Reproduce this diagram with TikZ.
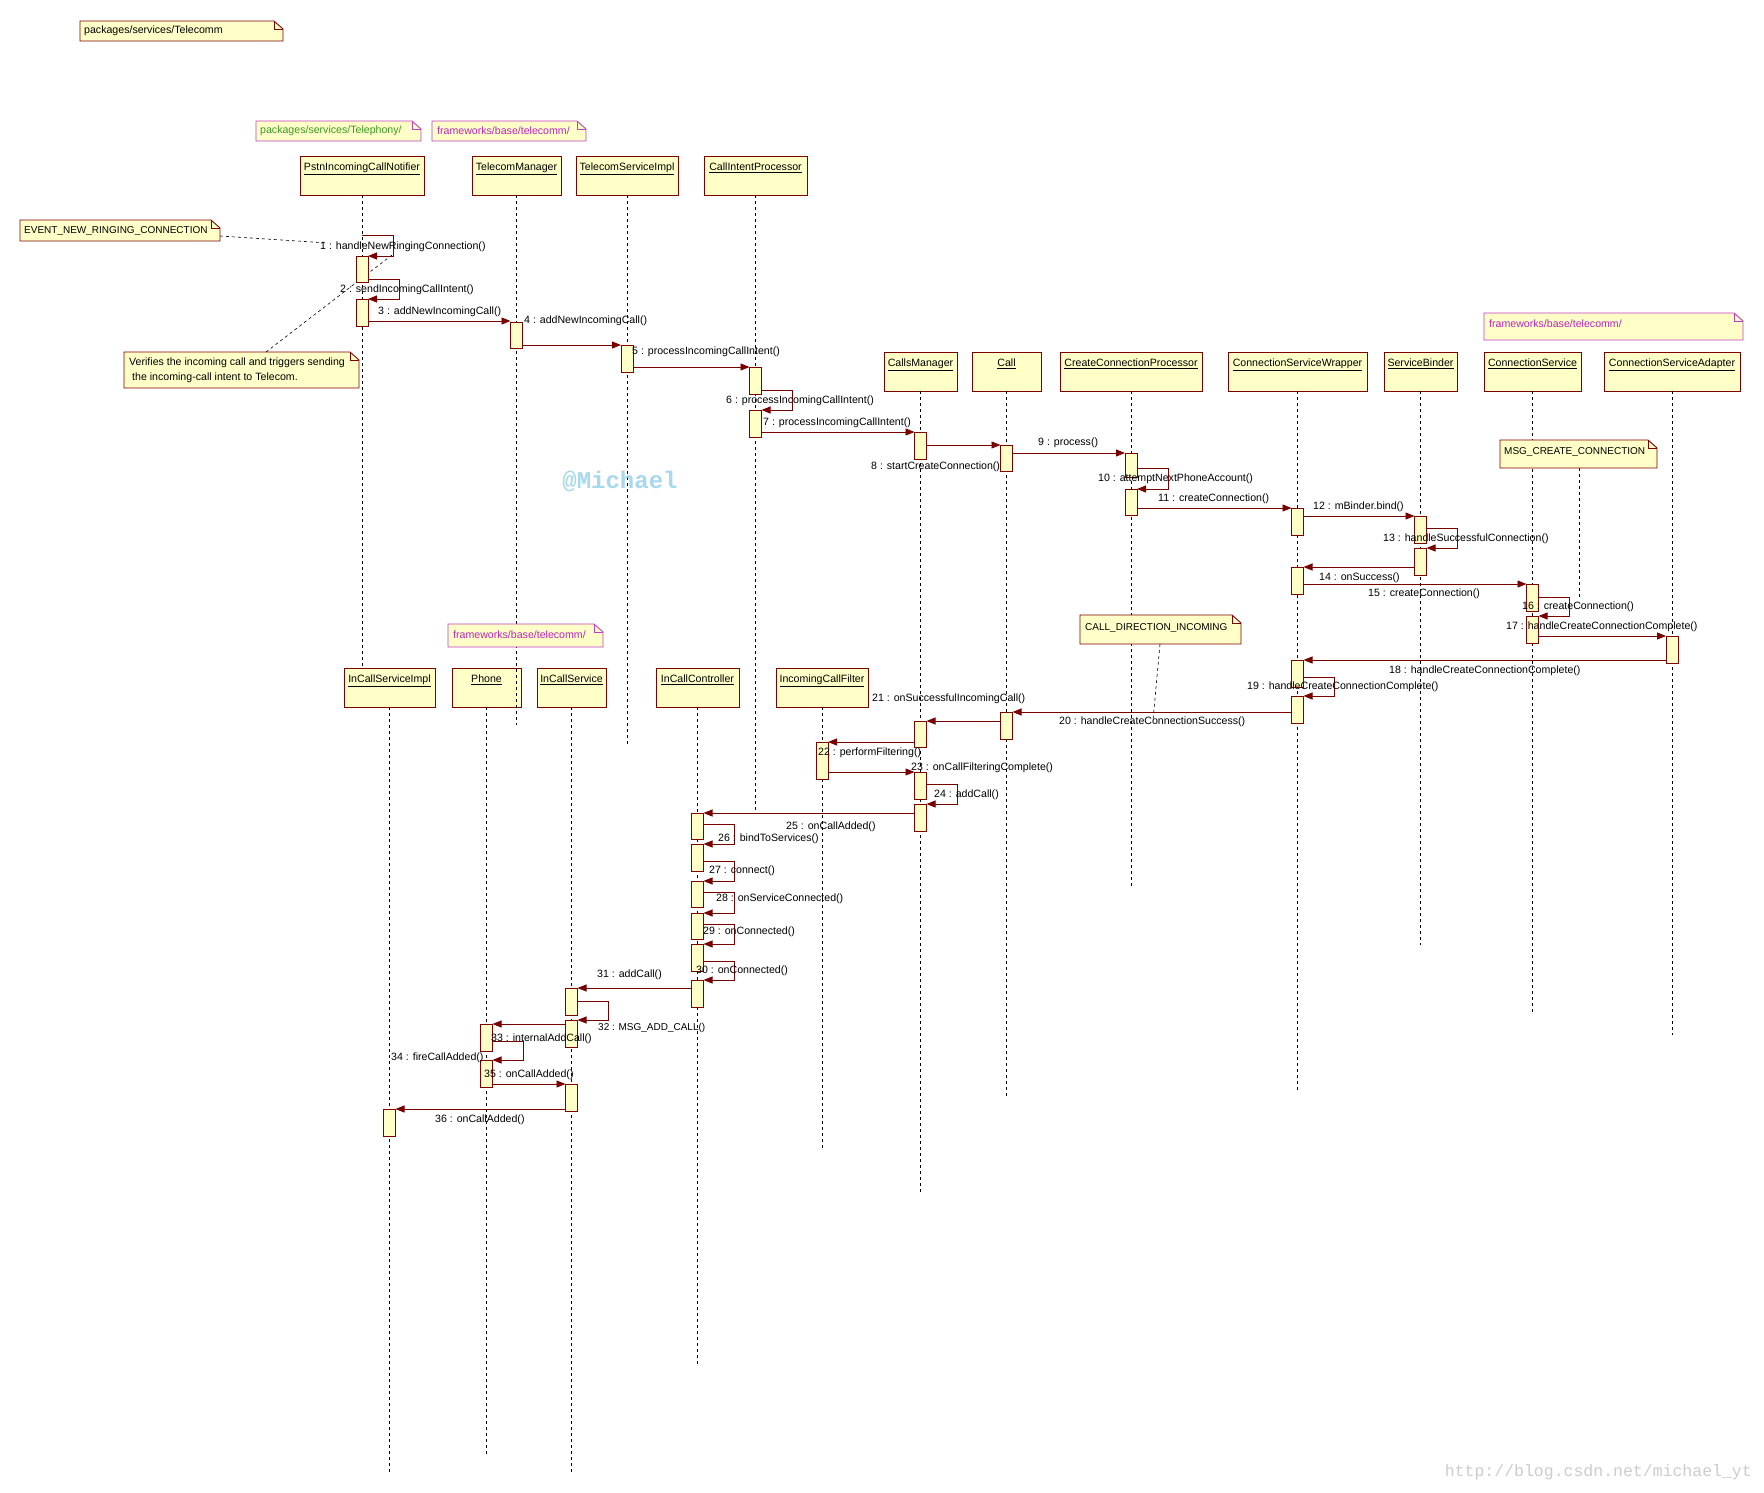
\documentclass[tikz,border=0pt]{standalone}
\usepackage{fontspec}
\setmainfont{Liberation Sans}
\newfontfamily\wmmono{Liberation Mono}
\usetikzlibrary{arrows.meta}
\definecolor{boxfill}{HTML}{FFFFC8}
\definecolor{boxline}{HTML}{800000}
\definecolor{msgline}{HTML}{780000}
\definecolor{pinkline}{HTML}{C040C0}
\definecolor{pinktext}{HTML}{C020C0}
\definecolor{greentext}{HTML}{3A9A20}
\definecolor{wmblue}{HTML}{A8D8EC}
\newcommand\sdobj[6]{\node[objbox, minimum width={(#4-#2)*1pt}, minimum height={(#5-#3)*1pt}, label={[objlbl]north:\underline{#6}}] (#1) at (#2,#3) {};}
\newcommand\sdact[4]{\node[actbox, minimum height={(#4-#3)*1pt}] (#1) at (#2.south |- 0,#3) {};}
\newcommand\sdmsg[3]{\draw[msgarrow] (#1 |- 0,#3) -- (#2 |- 0,#3);}
\newcommand\sdself[4]{\draw[msgarrow] (#1 |- 0,#3) -- ++(31,0) |- (#2 |- 0,#4);}
\newcommand\sdnote[6]{%
 \node[notebg, minimum width={(#4-#2)*1pt}, minimum height={(#5-#3)*1pt}] (#1) at (#2,#3) {};
 \fill[white] ([xshift=-9pt]#1.north east) -- (#1.north east) -- ([yshift=-8pt]#1.north east) -- cycle;
 \draw[draw=#6, line width=0.9pt] (#1.north west) -- ([xshift=-9pt]#1.north east) -- ([yshift=-8pt]#1.north east) -- (#1.south east) -- (#1.south west) -- cycle;
 \draw[draw=#6, line width=0.9pt] ([xshift=-9pt]#1.north east) |- ([yshift=-8pt]#1.north east);}
\begin{document}
\begin{tikzpicture}[x=1pt,y=-1pt, font=\fontsize{10.6}{12.7}\selectfont,
  objbox/.style={draw=boxline, fill=boxfill, line width=1pt, inner sep=0pt, outer sep=0pt, anchor=north west},
  objlbl/.style={anchor=north, inner sep=0pt, yshift=-7pt},
  actbox/.style={draw=boxline, fill=boxfill, line width=0.9pt, inner sep=0pt, outer sep=0pt, minimum width=12pt, anchor=north},
  lifeline/.style={draw=black, line width=0.7pt, dash pattern=on 3pt off 3pt},
  notelink/.style={draw=black, line width=0.6pt, dash pattern=on 3pt off 3pt},
  msgarrow/.style={draw=msgline, line width=0.9pt, -{Triangle[length=9pt,width=7pt]}},
  mlabel/.style={anchor=west, inner sep=0pt},
  notebg/.style={fill=boxfill, draw=none, inner sep=0pt, outer sep=0pt, anchor=north west},
  notetext/.style={anchor=west, inner sep=0pt, align=left},
  uscore/.style={font=\fontsize{10}{12}\selectfont}]
\fill[white] (0,0) rectangle (1764,1492);
\useasboundingbox (0,0) rectangle (1764,1492);

% objects
\sdobj{Pstn}{300}{156}{424}{195}{PstnIncomingCallNotifier}
\sdobj{TM}{472}{156}{561}{195}{TelecomManager}
\sdobj{TSI}{576}{156}{678}{195}{TelecomServiceImpl}
\sdobj{CIP}{704}{156}{807}{195}{CallIntentProcessor}
\sdobj{CM}{884}{352}{957}{391}{CallsManager}
\sdobj{Call}{972}{352}{1041}{391}{Call}
\sdobj{CCP}{1060}{352}{1202}{391}{CreateConnectionProcessor}
\sdobj{CSW}{1228}{352}{1367}{391}{ConnectionServiceWrapper}
\sdobj{SB}{1384}{352}{1457}{391}{ServiceBinder}
\sdobj{CS}{1484}{352}{1581}{391}{ConnectionService}
\sdobj{CSA}{1604}{352}{1740}{391}{ConnectionServiceAdapter}
\sdobj{ICSI}{344}{668}{435}{707}{InCallServiceImpl}
\sdobj{Ph}{452}{668}{521}{707}{Phone}
\sdobj{ICS}{537}{668}{606}{707}{InCallService}
\sdobj{ICC}{656}{668}{739}{707}{InCallController}
\sdobj{ICF}{776}{668}{868}{707}{IncomingCallFilter}

% lifeline ends
\coordinate (ePstn) at (0,667);
\coordinate (eTM) at (0,725);
\coordinate (eTSI) at (0,745);
\coordinate (eCIP) at (0,810);
\coordinate (eCM) at (0,1192);
\coordinate (eCall) at (0,1097);
\coordinate (eCCP) at (0,886);
\coordinate (eCSW) at (0,1091);
\coordinate (eSB) at (0,945);
\coordinate (eCS) at (0,1012);
\coordinate (eCSA) at (0,1035);
\coordinate (eICSI) at (0,1472);
\coordinate (ePh) at (0,1455);
\coordinate (eICS) at (0,1472);
\coordinate (eICC) at (0,1365);
\coordinate (eICF) at (0,1149);
\foreach \o in {Pstn,TM,TSI,CIP,CM,Call,CCP,CSW,SB,CS,CSA,ICSI,Ph,ICS,ICC,ICF}
  \draw[lifeline] (\o.south) -- (\o.south |- e\o);

% notes
\sdnote{NTele}{80}{21}{283}{41}{boxline}
\node[notetext] (NTeleT) at (84,31) {packages/services/Telecomm};
\sdnote{NTphy}{256}{121}{421}{141}{pinkline}
\node[notetext, text=greentext] (NTphyT) at (260,131) {packages/services/Telephony/};
\sdnote{NFwA}{432}{121}{586}{141}{pinkline}
\node[notetext, text=pinktext] (NFwAT) at (437,131) {frameworks/base/telecomm/};
\sdnote{NEvt}{20}{220}{220}{241}{boxline}
\node[notetext, uscore] (NEvtT) at (24,231) {EVENT\_NEW\_RINGING\_CONNECTION};
\sdnote{NVer}{124}{352}{359}{388}{boxline}
\node[notetext, font=\fontsize{10.6}{15}\selectfont] (NVerT) at (129,370) {Verifies the incoming call and triggers sending\\\hspace*{3pt}the incoming-call intent to Telecom.};
\sdnote{NFwC}{1484}{313}{1743}{340}{pinkline}
\node[notetext, text=pinktext] (NFwCT) at (1489,324) {frameworks/base/telecomm/};
\sdnote{NMsg}{1500}{440}{1657}{468}{boxline}
\node[notetext, uscore] (NMsgT) at (1504,452) {MSG\_CREATE\_CONNECTION};
\sdnote{NCdi}{1080}{615}{1241}{644}{boxline}
\node[notetext, uscore] (NCdiT) at (1085,628) {CALL\_DIRECTION\_INCOMING};
\sdnote{NFwB}{448}{624}{603}{647}{pinkline}
\node[notetext, text=pinktext] (NFwBT) at (453,635) {frameworks/base/telecomm/};

% note links
\coordinate (cEvt) at (328,243);
\draw[notelink] (NEvt.east |- 0,236) -- (cEvt);
\coordinate (cVer) at (392,255);
\draw[notelink] (NVer.north -| 266,0) -- (cVer);
\coordinate (cMsg) at (1579,597);
\draw[notelink] (NMsg.south -| 1579,0) -- (cMsg);
\coordinate (cCdi) at (1153,720);
\draw[notelink] (NCdi.south -| 1160,0) -- (cCdi);

% activations
\sdact{A1}{Pstn}{256}{282}
\sdact{A2}{Pstn}{299}{326}
\sdact{TMa}{TM}{322}{348}
\sdact{TSIa}{TSI}{345}{372}
\sdact{CIPa}{CIP}{367}{394}
\sdact{CIPb}{CIP}{410}{437}
\sdact{CMa}{CM}{432}{459}
\sdact{CMb}{CM}{721}{747}
\sdact{CMc}{CM}{772}{799}
\sdact{CMd}{CM}{804}{831}
\sdact{Calla}{Call}{445}{471}
\sdact{Callb}{Call}{712}{739}
\sdact{CCPa}{CCP}{453}{477}
\sdact{CCPb}{CCP}{489}{515}
\sdact{CSWa}{CSW}{508}{535}
\sdact{CSWb}{CSW}{567}{594}
\sdact{CSWc}{CSW}{660}{687}
\sdact{CSWd}{CSW}{696}{723}
\sdact{SBa}{SB}{516}{543}
\sdact{SBb}{SB}{548}{575}
\sdact{CSa}{CS}{584}{611}
\sdact{CSb}{CS}{616}{643}
\sdact{CSAa}{CSA}{636}{663}
\sdact{ICFa}{ICF}{742}{779}
\sdact{ICCa}{ICC}{813}{839}
\sdact{ICCb}{ICC}{844}{871}
\sdact{ICCc}{ICC}{881}{907}
\sdact{ICCd}{ICC}{913}{939}
\sdact{ICCe}{ICC}{944}{971}
\sdact{ICCf}{ICC}{980}{1007}
\sdact{ICSa}{ICS}{988}{1015}
\sdact{ICSb}{ICS}{1020}{1047}
\sdact{ICSc}{ICS}{1084}{1111}
\sdact{Pha}{Ph}{1024}{1051}
\sdact{Phb}{Ph}{1060}{1087}
\sdact{ICSIa}{ICSI}{1109}{1136}

% messages
\sdself{Pstn.south}{A1.east}{235}{256}
\sdself{A1.east}{A2.east}{279}{299}
\sdmsg{A2.east}{TMa.west}{321}
\sdmsg{TMa.east}{TSIa.west}{345}
\sdmsg{TSIa.east}{CIPa.west}{367}
\sdself{CIPa.east}{CIPb.east}{390}{410}
\sdmsg{CIPb.east}{CMa.west}{432}
\sdmsg{CMa.east}{Calla.west}{445}
\sdmsg{Calla.east}{CCPa.west}{453}
\sdself{CCPa.east}{CCPb.east}{468}{489}
\sdmsg{CCPb.east}{CSWa.west}{508}
\sdmsg{CSWa.east}{SBa.west}{516}
\sdself{SBa.east}{SBb.east}{528}{548}
\sdmsg{SBb.west}{CSWb.east}{567}
\sdmsg{CSWb.east}{CSa.west}{584}
\sdself{CSa.east}{CSb.east}{597}{616}
\sdmsg{CSb.east}{CSAa.west}{636}
\sdmsg{CSAa.west}{CSWc.east}{660}
\sdself{CSWc.east}{CSWd.east}{677}{696}
\sdmsg{CSWd.west}{Callb.east}{712}
\sdmsg{Callb.west}{CMb.east}{721}
\sdmsg{CMb.west}{ICFa.east}{742}
\sdmsg{ICFa.east}{CMc.west}{772}
\sdself{CMc.east}{CMd.east}{784}{804}
\sdmsg{CMd.west}{ICCa.east}{813}
\sdself{ICCa.east}{ICCb.east}{824}{844}
\sdself{ICCb.east}{ICCc.east}{861}{881}
\sdself{ICCc.east}{ICCd.east}{892}{913}
\sdself{ICCd.east}{ICCe.east}{924}{944}
\sdself{ICCe.east}{ICCf.east}{961}{980}
\sdmsg{ICCf.west}{ICSa.east}{988}
\sdself{ICSa.east}{ICSb.east}{1001}{1020}
\sdmsg{ICSb.west}{Pha.east}{1024}
\sdself{Pha.east}{Phb.east}{1041}{1060}
\sdmsg{Phb.east}{ICSc.west}{1084}
\sdmsg{ICSc.west}{ICSIa.east}{1109}

% labels
\node[mlabel] (L1) at (320,247) {1 : handleNewRingingConnection()};
\node[mlabel] (L2) at (340,290) {2 : sendIncomingCallIntent()};
\node[mlabel] (L3) at (378,312) {3 : addNewIncomingCall()};
\node[mlabel] (L4) at (524,321) {4 : addNewIncomingCall()};
\node[mlabel] (L5) at (632,352) {5 : processIncomingCallIntent()};
\node[mlabel] (L6) at (726,401) {6 : processIncomingCallIntent()};
\node[mlabel] (L7) at (763,423) {7 : processIncomingCallIntent()};
\node[mlabel] (L8) at (871,467) {8 : startCreateConnection()};
\node[mlabel] (L9) at (1038,443) {9 : process()};
\node[mlabel] (L10) at (1098,479) {10 : attemptNextPhoneAccount()};
\node[mlabel] (L11) at (1158,499) {11 : createConnection()};
\node[mlabel] (L12) at (1313,507) {12 : mBinder.bind()};
\node[mlabel] (L13) at (1383,539) {13 : handleSuccessfulConnection()};
\node[mlabel] (L14) at (1319,578) {14 : onSuccess()};
\node[mlabel] (L15) at (1368,594) {15 : createConnection()};
\node[mlabel] (L16) at (1522,607) {16 : createConnection()};
\node[mlabel] (L17) at (1506,627) {17 : handleCreateConnectionComplete()};
\node[mlabel] (L18) at (1389,671) {18 : handleCreateConnectionComplete()};
\node[mlabel] (L19) at (1247,687) {19 : handleCreateConnectionComplete()};
\node[mlabel] (L20) at (1059,722) {20 : handleCreateConnectionSuccess()};
\node[mlabel] (L21) at (872,699) {21 : onSuccessfulIncomingCall()};
\node[mlabel] (L22) at (818,753) {22 : performFiltering()};
\node[mlabel] (L23) at (911,768) {23 : onCallFilteringComplete()};
\node[mlabel] (L24) at (934,795) {24 : addCall()};
\node[mlabel] (L25) at (786,827) {25 : onCallAdded()};
\node[mlabel] (L26) at (718,839) {26 : bindToServices()};
\node[mlabel] (L27) at (709,871) {27 : connect()};
\node[mlabel] (L28) at (716,899) {28 : onServiceConnected()};
\node[mlabel] (L29) at (703,932) {29 : onConnected()};
\node[mlabel] (L30) at (696,971) {30 : onConnected()};
\node[mlabel] (L31) at (597,975) {31 : addCall()};
\node[mlabel, uscore] (L32) at (598,1028) {32 : MSG\_ADD\_CALL()};
\node[mlabel] (L33) at (491,1039) {33 : internalAddCall()};
\node[mlabel] (L34) at (391,1058) {34 : fireCallAdded()};
\node[mlabel] (L35) at (484,1075) {35 : onCallAdded()};
\node[mlabel] (L36) at (435,1120) {36 : onCallAdded()};

% watermarks
\node[text=wmblue, font=\wmmono\bfseries\fontsize{24}{24}\selectfont, inner sep=0pt] (WM) at (620,481) {@Michael};
\node[text=black!20, font=\wmmono\fontsize{16.5}{16.5}\selectfont, anchor=east, inner sep=0pt] (WM2) at (1752,1472) {http://blog.csdn.net/michael\_yt};
\end{tikzpicture}
\end{document}
